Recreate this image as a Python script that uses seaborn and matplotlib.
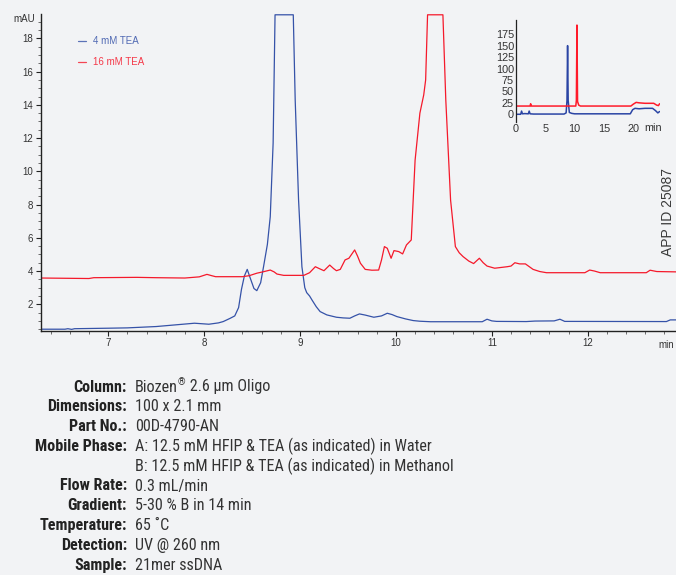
import matplotlib
matplotlib.use("Agg")
import matplotlib.pyplot as plt
from matplotlib import font_manager
from matplotlib.font_manager import FontProperties
from matplotlib.ft2font import FT2Font
from matplotlib.ticker import MultipleLocator
import seaborn as sns
import pandas as pd

# ---------------- data ----------------
blue_x = [6.30, 6.55, 6.58, 6.62, 6.65, 7.0, 7.2, 7.5, 7.7, 7.9, 8.05, 8.15, 8.2, 8.27, 8.32,
          8.36, 8.39, 8.42, 8.45, 8.48, 8.52, 8.55, 8.59, 8.62, 8.66, 8.69, 8.72, 8.74,
          8.93, 8.95, 8.985, 9.02, 9.05, 9.07, 9.10, 9.125, 9.17, 9.21, 9.28, 9.38, 9.45, 9.52,
          9.57, 9.62, 9.68, 9.77, 9.85, 9.91, 9.96, 10.01, 10.1, 10.18, 10.25, 10.36, 10.9,
          10.95, 11.0, 11.05, 11.36, 11.45, 11.65, 11.71, 11.76, 12.82, 12.86, 12.92]
blue_y = [0.50, 0.50, 0.53, 0.49, 0.53, 0.56, 0.58, 0.66, 0.76, 0.86, 0.80, 0.88, 0.96, 1.15, 1.3,
          1.8, 2.9, 3.7, 4.1, 3.6, 2.95, 2.82, 3.3, 4.26, 5.6, 7.27, 11.7, 19.42,
          19.42, 14.3, 8.3, 4.26, 3.0, 2.7, 2.5, 2.26, 1.85, 1.56, 1.36, 1.22, 1.18, 1.16,
          1.3, 1.42, 1.35, 1.22, 1.3, 1.46, 1.38, 1.26, 1.12, 1.02, 0.98, 0.95, 0.95,
          1.1, 1.0, 0.97, 0.96, 0.99, 1.0, 1.1, 0.97, 0.96, 1.06, 1.06]

red_x = [6.30, 6.8, 6.85, 7.3, 7.5, 7.8, 7.95, 8.03, 8.08, 8.12, 8.4, 8.47, 8.55, 8.62, 8.69,
         8.73, 8.76, 8.83, 9.04, 9.1, 9.16, 9.2, 9.25, 9.31, 9.35, 9.38, 9.42, 9.47, 9.51, 9.57,
         9.6, 9.63, 9.68, 9.75, 9.82, 9.85, 9.88, 9.91, 9.95, 9.98, 10.03, 10.07, 10.11, 10.16,
         10.18, 10.2, 10.25, 10.29, 10.31, 10.33, 10.49, 10.52, 10.57, 10.62, 10.66,
         10.7, 10.76, 10.81, 10.87, 10.91, 10.95, 11.03, 11.16, 11.2, 11.24, 11.29, 11.35,
         11.43, 11.5, 11.57, 11.97, 12.02, 12.07, 12.13, 12.61, 12.65, 12.72, 12.92]
red_y = [3.58, 3.55, 3.6, 3.62, 3.6, 3.58, 3.65, 3.8, 3.72, 3.66, 3.66, 3.72, 3.87, 3.96, 4.06,
         3.95, 3.82, 3.74, 3.74, 3.9, 4.26, 4.15, 4.02, 4.36, 4.15, 4.02, 4.1, 4.67, 4.77, 5.27,
         4.9, 4.47, 4.1, 4.05, 4.06, 4.67, 5.47, 5.37, 4.77, 5.23, 5.17, 5.03, 5.57, 5.87,
         8.27, 10.67, 13.5, 14.6, 15.5, 19.42, 19.42, 14.3, 8.27, 5.47, 5.1,
         4.87, 4.6, 4.45, 4.77, 4.5, 4.3, 4.17, 4.26, 4.3, 4.5, 4.43, 4.43,
         4.1, 3.97, 3.9, 3.9, 4.06, 4.0, 3.9, 3.9, 4.05, 3.97, 3.95]

inset_blue_x = [0, 0.8, 0.95, 1.1, 1.5, 2.1, 2.25, 2.4, 3, 8.2, 8.55, 8.7, 8.8, 8.9, 9.1, 9.5,
                10, 15, 19.5, 19.9, 20.3, 21, 22, 23.3, 23.8, 24.2, 24.5]
inset_blue_y = [0, 0, 7, 1, 1.5, 1, 7, 1, 0.5, 0.5, 3, 30, 150, 30, 4, 2,
                1, 1, 1, 10, 13, 12, 13, 13, 8, 3, 6]
inset_red_x = [0, 2.4, 2.5, 2.6, 10.2, 10.3, 10.4, 10.5, 10.7, 11, 19.6, 20.0, 20.5, 21, 22,
               23.5, 24, 24.3, 24.5]
inset_red_y = [18, 18, 23, 18, 18, 30, 195, 28, 20, 18, 18, 22, 26, 25, 24,
               24, 20, 19, 23]

series_names = ["4 mM TEA", "16 mM TEA"]
x_ticks = [7, 8, 9, 10, 11, 12]
y_ticks = [2, 4, 6, 8, 10, 12, 14, 16, 18]
inset_x_ticks = [0, 5, 10, 15, 20]
inset_y_ticks = [0, 25, 50, 75, 100, 125, 150, 175]

info_labels = ["Column:", "Dimensions:", "Part No.:", "Mobile Phase:", "", "Flow Rate:",
               "Gradient:", "Temperature:", "Detection:", "Sample:"]
# each value is a list of (text, is_superscript) pieces
info_values = [[("Biozen", False), ("\u00ae", True), (" 2.6 \u00b5m Oligo", False)],
               [("100 x 2.1 mm", False)], [("00D-4790-AN", False)],
               [("A: 12.5 mM HFIP & TEA (as indicated) in Water", False)],
               [("B: 12.5 mM HFIP & TEA (as indicated) in Methanol", False)],
               [("0.3 mL/min", False)], [("5-30 % B in 14 min", False)],
               [("65 \u02daC", False)], [("UV @ 260 nm", False)], [("21mer ssDNA", False)]]

# ---------------- style ----------------
BG = "#f2f3f5"
BLUE = "#3552a8"
RED = "#f5192b"
TXT = "#333333"

sns.set_theme(style="ticks")
plt.rcParams["font.family"] = ["Liberation Sans", "DejaVu Sans"]


# ---- choose a condensed family having both a regular and a bold face ----
def _w(f):
    w = f.weight
    if isinstance(w, int):
        return w
    try:
        return int(w)
    except Exception:
        return 700 if "bold" in str(w).lower() else 400


fams = {}
for f in font_manager.fontManager.ttflist:
    nm = f.name.lower()
    narrowish = ("narrow" in nm or "condensed" in nm or
                 str(f.stretch) in ("condensed", "semi-condensed", "extra-condensed"))
    if narrowish and f.style == "normal" and f.fname.lower().endswith((".ttf", ".otf")):
        fams.setdefault(f.name, []).append((_w(f), f.fname))

pref = ["Roboto Condensed", "Liberation Sans Narrow", "Open Sans Condensed",
        "Noto Sans Condensed", "DejaVu Sans Condensed"]
order = [p for p in pref if p in fams] + sorted(k for k in fams if k not in pref)
reg_path = bold_path = None
for fam in order:
    regs = [p for w, p in fams[fam] if 380 <= w <= 500]
    bolds = [p for w, p in fams[fam] if w >= 650]
    if regs and bolds:
        reg_path, bold_path = regs[0], bolds[0]
        break
if reg_path is None:
    for fam in order:
        if fams[fam]:
            ws = sorted(fams[fam], key=lambda t: abs(t[0] - 400))
            reg_path = ws[0][1]
            wb = sorted(fams[fam], key=lambda t: -t[0])
            bold_path = wb[0][1]
            break

if reg_path and bold_path:
    fp_reg = FontProperties(fname=reg_path)
    fp_bold = FontProperties(fname=bold_path)
    try:
        has_ring = FT2Font(reg_path).get_char_index(0x02DA) != 0
    except Exception:
        has_ring = False
else:
    fp_reg = FontProperties(family="Liberation Sans")
    fp_bold = FontProperties(family="Liberation Sans", weight="bold")
    has_ring = True

fig = plt.figure(figsize=(6.76, 5.75), dpi=100, facecolor=BG)
W, H = 676, 575


def px_axes(l, t, r, b):
    return [l / W, 1 - b / H, (r - l) / W, (b - t) / H]


ax = fig.add_axes(px_axes(41, 14.3, 676, 330.7))
ax.set_facecolor(BG)

df = pd.concat([
    pd.DataFrame({"t": blue_x, "mAU": blue_y, "s": series_names[0]}),
    pd.DataFrame({"t": red_x, "mAU": red_y, "s": series_names[1]}),
])
sns.lineplot(data=df, x="t", y="mAU", hue="s", palette=[BLUE, RED], sort=False,
             estimator=None, linewidth=0.9, ax=ax, legend=False)
ax.set_xlim(6.30, 12.92)
ax.set_ylim(0.41, 19.45)
ax.set_xlabel("")
ax.set_ylabel("")
ax.set_xticks(x_ticks)
ax.set_yticks(y_ticks)
ax.xaxis.set_minor_locator(MultipleLocator(0.2))
ax.yaxis.set_minor_locator(MultipleLocator(0.5))
ax.tick_params(axis="both", which="major", length=3.5, width=0.8, color="#222222",
               labelsize=7, labelcolor=TXT, pad=2)
ax.tick_params(axis="both", which="minor", length=2, width=0.6, color="#555555")
for side in ["top", "right"]:
    ax.spines[side].set_visible(False)
for side in ["left", "bottom"]:
    ax.spines[side].set_color("#222222")
    ax.spines[side].set_linewidth(1.0)

fig.text(35 / W, 1 - 19 / H, "mAU", ha="right", va="center", fontsize=7, color=TXT)
fig.text(674 / W, 1 - 345 / H, "min", ha="right", va="center", fontsize=7, color=TXT)

# legend (manual, colored text)
for i, (name, col) in enumerate(zip(series_names, [BLUE, RED])):
    yy = 1 - (41 + i * 21) / H
    fig.add_artist(plt.Line2D([78 / W, 86 / W], [yy, yy], color=col, lw=0.9, alpha=0.8))
    fig.text(93 / W, yy, name, ha="left", va="center", fontsize=7, color=col, alpha=0.85)

# inset
axi = fig.add_axes(px_axes(516, 20, 659.6, 121.6))
axi.patch.set_alpha(0)
dfi = pd.concat([
    pd.DataFrame({"t": inset_blue_x, "mAU": inset_blue_y, "s": series_names[0]}),
    pd.DataFrame({"t": inset_red_x, "mAU": inset_red_y, "s": series_names[1]}),
])
sns.lineplot(data=dfi, x="t", y="mAU", hue="s", palette=["#2a44a4", "#ff1a2a"], sort=False,
             estimator=None, linewidth=1.1, ax=axi, legend=False)
axi.set_xlim(0, 24.5)
axi.set_ylim(-16, 206)
axi.set_xlabel("")
axi.set_ylabel("")
axi.set_xticks(inset_x_ticks)
axi.set_yticks(inset_y_ticks)
axi.tick_params(axis="both", length=0, labelsize=7.8, labelcolor=TXT, pad=1.5)
for side in ["top", "right", "bottom"]:
    axi.spines[side].set_visible(False)
axi.spines["left"].set_color("#222222")
axi.spines["left"].set_linewidth(0.9)
fig.text(644 / W, 1 - 128 / H, "min", ha="left", va="center", fontsize=7.8, color=TXT)

# vertical ID text at the right edge
fig.text(675 / W, 1 - 212 / H, "APP ID 25087", rotation=90, ha="right", va="center",
         fontsize=10, color="#3a3a3a")

# ---- info block: fit font size so the widest value line spans ~318 px ----
fig.canvas.draw()
renderer = fig.canvas.get_renderer()
probe = fig.text(0, 0, info_values[4][0][0], fontproperties=fp_reg, fontsize=10)
wpx = probe.get_window_extent(renderer).width
probe.remove()
fs = 10 * 318 / wpx
fp_reg.set_size(fs)
fp_bold.set_size(fs)
fp_sup = fp_reg.copy()
fp_sup.set_size(fs * 0.6)
fp_fb = FontProperties(family="Liberation Sans", size=fs * 0.9)

for i, (lab, pieces) in enumerate(zip(info_labels, info_values)):
    yb = 391.5 + i * 19.8
    if lab:
        fig.text(127 / W, 1 - yb / H, lab, ha="right", va="baseline", fontproperties=fp_bold,
                 color="#222222")
    x = 135.0
    for txt, sup in pieces:
        chunks = [txt]
        if not has_ring and "\u02da" in txt:
            a, b = txt.split("\u02da")
            chunks = [a, "\u02da", b]
        for ch in chunks:
            if not ch:
                continue
            prop = fp_sup if sup else (fp_fb if ch == "\u02da" else fp_reg)
            y = yb - (fs * 0.55 if sup else 0)
            t = fig.text(x / W, 1 - y / H, ch, ha="left", va="baseline", fontproperties=prop,
                         color="#333333")
            bb = t.get_window_extent(renderer)
            x += bb.width + (0.5 if sup else 0)

fig.savefig("out.png", dpi=100, facecolor=BG)
